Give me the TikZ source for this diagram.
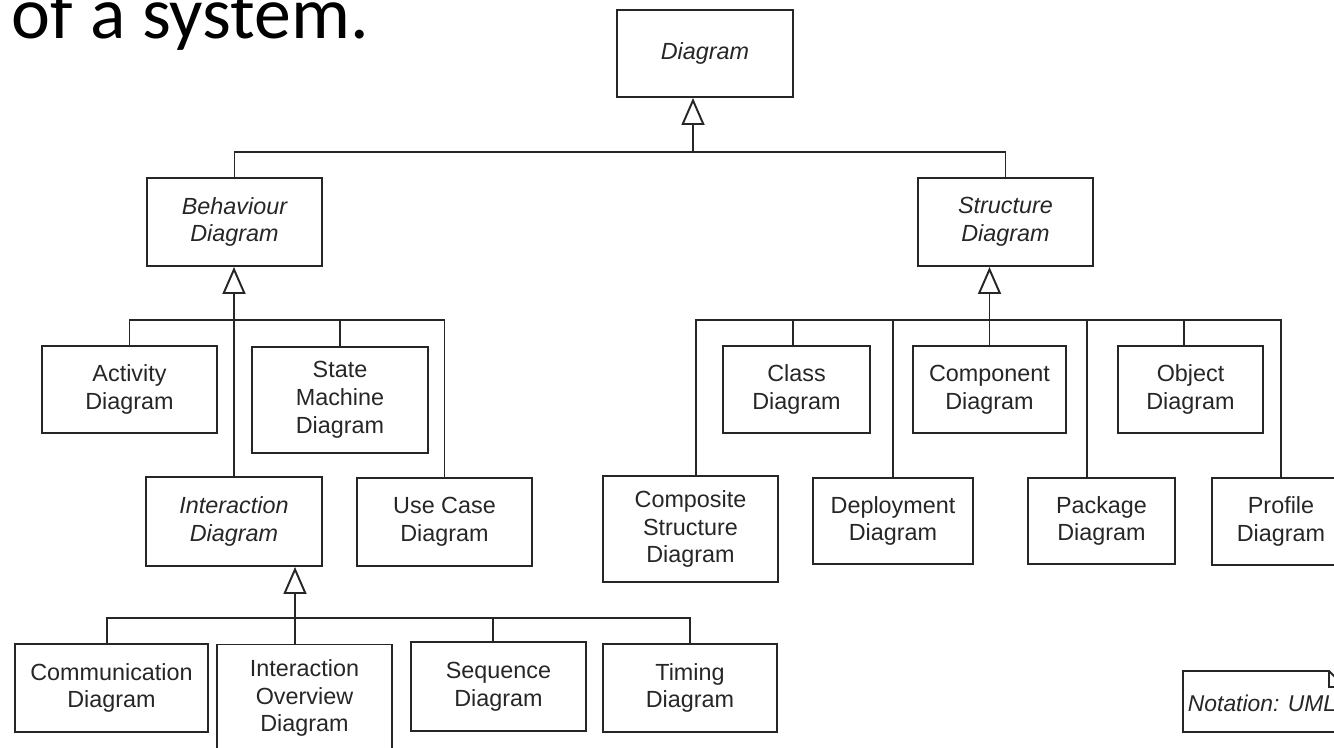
\documentclass[tikz,border=0pt]{standalone}
\usepackage{fontspec}
\setmainfont{Liberation Sans}
\newfontfamily\slidefont{Carlito}
\usetikzlibrary{arrows.meta}

\begin{document}
\begin{tikzpicture}[x=0.02cm, y=-0.02cm, line width=1.1pt, black!85,
  box/.style={draw, align=center, inner sep=0pt, font=\fontsize{13.3}{15.8}\selectfont},
  gen/.style={-{Triangle[open, fill=white, width=0.46cm, length=0.54cm]}}]

\useasboundingbox (0,0) rectangle (1334,747);
\clip (0,0) rectangle (1334,747);

\node [anchor=base west, inner sep=0pt, black, font=\slidefont\fontsize{42}{50}\selectfont] (title) at (11,38) {of a system.};

\node [box, minimum width=3.52cm, minimum height=1.74cm] (diag) at (705,53.5) {\itshape Diagram};
\node [box, minimum width=3.5cm, minimum height=1.76cm] (behav) at (234.5,222) {\itshape Behaviour\\\itshape Diagram};
\node [box, minimum width=3.5cm, minimum height=1.76cm] (struct) at (1005.5,222) {\itshape Structure\\\itshape Diagram};

\node [box, minimum width=3.5cm, minimum height=1.74cm] (activity) at (129.5,389.5) {Activity\\Diagram};
\node [box, minimum width=3.52cm, minimum height=2.12cm] (statem) at (340,400) {State\\Machine\\Diagram};
\node [box, minimum width=3.52cm, minimum height=1.78cm] (interact) at (234,521.5) {\itshape Interaction\\\itshape Diagram};
\node [box, minimum width=3.5cm, minimum height=1.76cm] (usecase) at (444.5,522) {Use Case\\Diagram};

\node [box, minimum width=3.86cm, minimum height=1.76cm] (comm) at (111.5,688) {Communication\\Diagram};
\node [box, minimum width=3.5cm, minimum height=2.14cm] (overview) at (304.5,698) {Interaction\\Overview\\Diagram};
\node [box, minimum width=3.5cm, minimum height=1.78cm] (sequence) at (498.5,686.5) {Sequence\\Diagram};
\node [box, minimum width=3.48cm, minimum height=1.76cm] (timing) at (690,688) {Timing\\Diagram};

\node [box, minimum width=2.94cm, minimum height=1.74cm] (class) at (796.5,389.5) {Class\\Diagram};
\node [box, minimum width=3.06cm, minimum height=1.74cm] (component) at (989.5,389.5) {Component\\Diagram};
\node [box, minimum width=2.9cm, minimum height=1.74cm] (object) at (1190.5,389.5) {Object\\Diagram};
\node [box, minimum width=3.5cm, minimum height=2.12cm] (composite) at (690.5,529) {Composite\\Structure\\Diagram};
\node [box, minimum width=3.2cm, minimum height=1.72cm] (deploy) at (893,521) {Deployment\\Diagram};
\node [box, minimum width=2.94cm, minimum height=1.72cm] (package) at (1101.5,521) {Package\\Diagram};
\node [box, minimum width=2.76cm, minimum height=1.74cm] (profile) at (1281,521.5) {Profile\\Diagram};

\coordinate (tbar) at (693,152);
\coordinate (bbar) at (234,320);
\coordinate (ibar) at (295,618);
\coordinate (sbar) at (990,320);

\draw [gen] (tbar) -- (diag.south -| tbar);
\draw (behav.north) |- (tbar) -| (struct.north);

\draw [gen] (interact.north) -- (behav.south -| interact.north);
\draw (activity.north) |- (bbar) -| (usecase.north);
\draw (statem.north) -- (statem.north |- bbar);

\draw [gen] (overview.north -| ibar) -- (interact.south -| ibar);
\draw ([xshift=-0.09cm]comm.north) |- (ibar) -| (timing.north);
\draw ([xshift=-0.11cm]sequence.north) -- ([xshift=-0.11cm]sequence.north |- ibar);

\draw [gen] (component.north) -- (struct.south -| component.north);
\draw ([xshift=0.11cm]composite.north) |- (sbar) -| (profile.north);
\draw ([xshift=-0.07cm]class.north) -- ([xshift=-0.07cm]class.north |- sbar);
\draw (deploy.north) -- (deploy.north |- sbar);
\draw ([xshift=-0.29cm]package.north) -- ([xshift=-0.29cm]package.north |- sbar);
\draw ([xshift=-0.13cm]object.north) -- ([xshift=-0.13cm]object.north |- sbar);

\draw (1183,671) -- (1329,671) -- (1345,687) -- (1345,732) -- (1183,732) -- cycle;
\draw (1329,671) |- (1345,687);
\node [anchor=base west, inner sep=0pt, font=\fontsize{13}{15}\selectfont\itshape] (notation) at (1187,711) {Notation: UML};

\end{tikzpicture}
\end{document}
